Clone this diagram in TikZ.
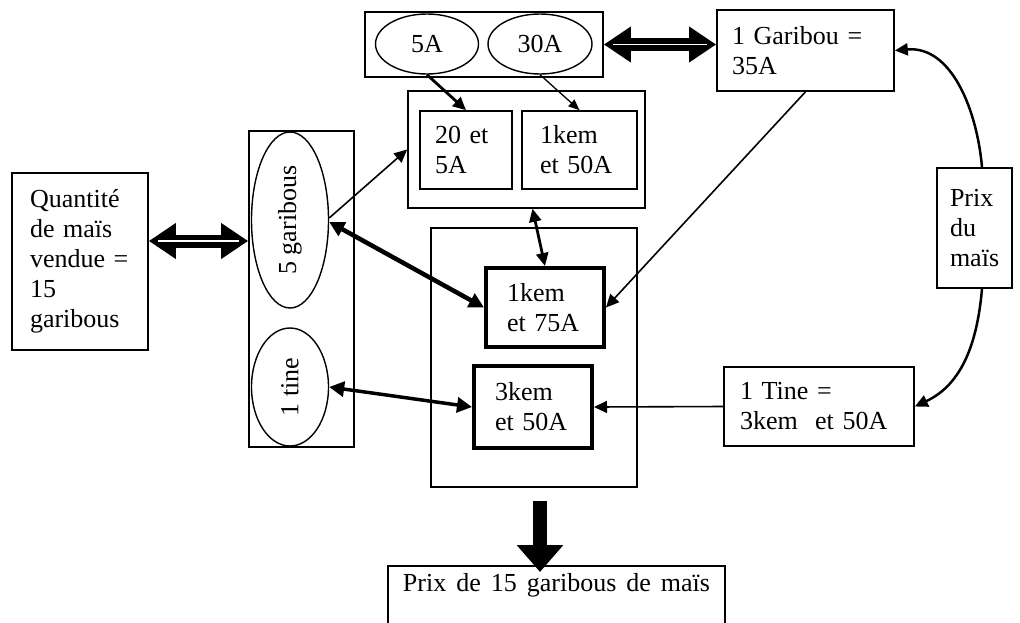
\documentclass[tikz,border=0pt]{standalone}
\usepackage{fontspec}
\setmainfont{Liberation Serif}
\usetikzlibrary{arrows.meta,shapes.geometric,calc}
\begin{document}
\begin{tikzpicture}[x=1pt,y=-1pt,
  every node/.style={font=\fontsize{26}{30}\selectfont},
  box/.style={draw, line width=1.6, rectangle, inner ysep=0, inner xsep=0, align=left},
  thickbox/.style={box, line width=4},
  oval/.style={draw, ellipse, line width=1.4, inner sep=0},
  tipsmall/.style={-{Triangle[length=11,width=9]}},
  tipmid/.style={-{Triangle[length=13,width=12]}},
  tipboth/.style={{Triangle[length=15,width=15]}-{Triangle[length=15,width=15]}},
  hollow/.style={line width=13, {Triangle[width=34,length=27]}-{Triangle[width=34,length=27]}},
  hollowcore/.style={white, line width=1.3, shorten <=9, shorten >=9},
  bigarrow/.style={line width=14, -{Triangle[width=45,length=27]}}
]
\fill[white] (0,0) rectangle (1020,622);
\useasboundingbox (0,0) rectangle (1020,622);
\clip (0,0) rectangle (1020,622);

% left box
\node[box, minimum width=136, minimum height=177, text width=100, inner xsep=18] (Q) at (80,261.5)
  {Quantité\\de maïs\\vendue =\\15\\garibous};

% left column
\node[box, minimum width=105, minimum height=316] (LC) at (301.5,289) {};
\node[oval, minimum width=77, minimum height=176] (E5) at (290,220) {};
\node[rotate=90] (E5t) at (E5.center) {5 garibous};
\node[oval, minimum width=77, minimum height=118] (E1) at (290,387) {};
\node[rotate=90] (E1t) at (E1.center) {1 tine};

% top container
\node[box, minimum width=238, minimum height=65] (TC) at (484,44.5) {};
\node[oval, minimum width=103, minimum height=60] (E5A) at (427,44) {5A};
\node[oval, minimum width=104, minimum height=60] (E30A) at (540,44) {30A};

% Garibou
\node[box, minimum width=177, minimum height=81, text width=147, inner xsep=15] (G) at (805.5,50.5)
  {1 Garibou =\\35A};

% Prix du mais
\node[box, minimum width=75, minimum height=120, text width=49, inner xsep=13] (P) at (974.5,228)
  {Prix\\du\\maïs};

% Tine
\node[box, minimum width=190, minimum height=79, text width=158, inner xsep=16] (T) at (819,406.5)
  {1 Tine =\\3kem\ \ et 50A};

% upper container
\node[box, minimum width=237, minimum height=117] (UC) at (526.5,149.5) {};
\node[box, minimum width=92, minimum height=78, text width=62, inner xsep=15] (B20) at (466,150) {20 et\\5A};
\node[box, minimum width=115, minimum height=78, text width=79, inner xsep=18] (B1k50) at (579.5,150) {1kem\\et 50A};

% middle container
\node[box, minimum width=206, minimum height=259] (MC) at (534,357.5) {};
\node[thickbox, minimum width=118, minimum height=79, text width=76, inner xsep=21] (B75) at (545,307.5) {1kem\\et 75A};
\node[thickbox, minimum width=118, minimum height=82, text width=76, inner xsep=21] (B3k) at (533,407) {3kem\\et 50A};

% bottom box
\node[box, anchor=north, minimum width=337, text height=18, text depth=50, inner ysep=8, align=center] (PB) at (556.5,565)
  {{\spaceskip=10pt Prix de 15 garibous de maïs}};

% hollow double arrows
\coordinate (qa) at ([yshift=20.5]Q.east);
\draw[hollow] (qa) -- (qa -| LC.west);
\draw[hollowcore] (qa) -- (qa -| LC.west);
\draw[hollow] (TC.east) -- (TC.east -| G.west);
\draw[hollowcore] (TC.east) -- (TC.east -| G.west);

% connectors
\draw[line width=1.6, tipmid] ([yshift=2]E5.east) -- (UC.west);
\draw[line width=4.5, tipboth] ([yshift=-2]E5.east) -- (B75.west);
\draw[line width=3.5, tipboth] (E1.east) -- (B3k.west);
\draw[line width=2.8, tipmid] (E5A.south) -- (B20.north);
\draw[line width=1.3, tipsmall] (E30A.south) -- (B1k50.north);
\draw[line width=2.8, {Triangle[length=13,width=12]}-{Triangle[length=13,width=12]}] ([xshift=6]UC.south) -- (B75.north);
\draw[line width=1.6, tipmid] (G.south) -- (B75.east);
\draw[line width=1.6, tipmid] (T.west) -- (B3k.east);
\draw[line width=2.5, tipmid] ([xshift=7.5]P.north) to[out=95,in=5] (G.east);
\draw[line width=2.5, tipmid] ([xshift=7.5]P.south) to[out=-95,in=25] (T.east);

% big down arrow
\coordinate (ba) at ([xshift=6,yshift=-13]MC.south);
\coordinate (bb) at (ba |- PB.north);
\draw[bigarrow] (ba) -- ([yshift=-7]bb);
\end{tikzpicture}
\end{document}
